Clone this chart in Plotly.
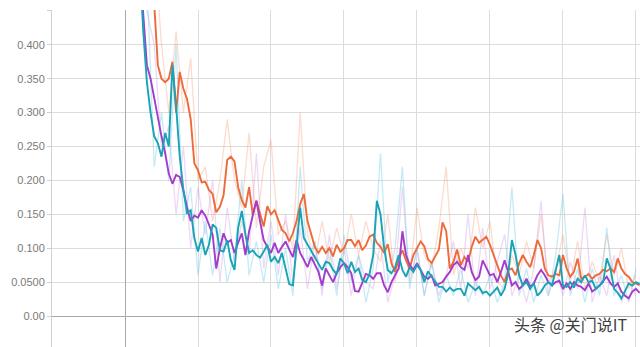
import plotly.graph_objects as go

# ---- data ----
orange_smooth = [0.75, 0.68, 0.6, 0.52, 0.46, 0.37, 0.35, 0.345, 0.35, 0.375,
                 0.30, 0.36, 0.335, 0.32, 0.29, 0.225, 0.215, 0.197, 0.198, 0.186,
                 0.18, 0.153, 0.161, 0.178, 0.23, 0.235, 0.228, 0.19, 0.171, 0.16,
                 0.19, 0.15, 0.17, 0.152, 0.132, 0.162, 0.15, 0.156, 0.142, 0.127,
                 0.122, 0.11, 0.122, 0.14, 0.165, 0.18, 0.14, 0.122, 0.102, 0.093,
                 0.102, 0.093, 0.1, 0.088, 0.105, 0.095, 0.1, 0.112, 0.112, 0.103,
                 0.112, 0.097, 0.104, 0.117, 0.12, 0.108, 0.102, 0.093, 0.106, 0.078,
                 0.065, 0.085, 0.097, 0.082, 0.07, 0.09, 0.1, 0.11, 0.103, 0.084,
                 0.078, 0.088, 0.098, 0.138, 0.125, 0.07, 0.08, 0.098, 0.075, 0.087,
                 0.08, 0.102, 0.117, 0.108, 0.112, 0.117, 0.105, 0.09, 0.072, 0.06,
                 0.05, 0.068, 0.07, 0.06, 0.078, 0.09, 0.08, 0.072, 0.09, 0.112,
                 0.1, 0.07, 0.06, 0.058, 0.062, 0.06, 0.09, 0.07, 0.058, 0.065,
                 0.085, 0.055, 0.058, 0.062, 0.055, 0.06, 0.062, 0.068, 0.066, 0.07,
                 0.065, 0.085, 0.07, 0.062, 0.058, 0.05, 0.048, 0.045]

teal_smooth = [0.52, 0.42, 0.345, 0.30, 0.265, 0.255, 0.235, 0.27, 0.25, 0.37,
               0.31, 0.235, 0.186, 0.152, 0.156, 0.115, 0.095, 0.115, 0.09, 0.105,
               0.135, 0.13, 0.097, 0.095, 0.112, 0.082, 0.068, 0.13, 0.155, 0.12,
               0.093, 0.097, 0.09, 0.086, 0.095, 0.105, 0.08, 0.087, 0.078, 0.093,
               0.07, 0.047, 0.045, 0.10, 0.16, 0.115, 0.106, 0.095, 0.087, 0.078,
               0.068, 0.08, 0.078, 0.068, 0.062, 0.085, 0.078, 0.063, 0.08, 0.065,
               0.07, 0.053, 0.05, 0.062, 0.09, 0.17, 0.15, 0.1, 0.068, 0.063,
               0.072, 0.09, 0.068, 0.058, 0.072, 0.065, 0.075, 0.068, 0.05, 0.066,
               0.058, 0.05, 0.043, 0.043, 0.036, 0.042, 0.037, 0.04, 0.04, 0.03,
               0.048, 0.043, 0.038, 0.043, 0.034, 0.036, 0.03, 0.036, 0.042, 0.03,
               0.04, 0.063, 0.112, 0.09, 0.06, 0.045, 0.05, 0.04, 0.048, 0.03,
               0.036, 0.045, 0.05, 0.045, 0.07, 0.09, 0.045, 0.043, 0.05, 0.042,
               0.055, 0.05, 0.06, 0.05, 0.052, 0.04, 0.045, 0.05, 0.085, 0.07,
               0.04, 0.034, 0.026, 0.036, 0.048, 0.045, 0.05, 0.047]

purple_smooth = [0.52, 0.44, 0.37, 0.35, 0.32, 0.29, 0.265, 0.24, 0.21, 0.195,
                 0.208, 0.205, 0.185, 0.16, 0.14, 0.148, 0.145, 0.156, 0.148, 0.135,
                 0.12, 0.07, 0.1, 0.122, 0.108, 0.112, 0.093, 0.108, 0.122, 0.09,
                 0.125, 0.148, 0.17, 0.14, 0.112, 0.102, 0.093, 0.108, 0.093, 0.102,
                 0.11, 0.098, 0.087, 0.112, 0.093, 0.083, 0.072, 0.087, 0.075, 0.065,
                 0.045, 0.07, 0.06, 0.05, 0.063, 0.072, 0.078, 0.072, 0.063, 0.037,
                 0.036, 0.05, 0.062, 0.06, 0.055, 0.063, 0.063, 0.045, 0.035, 0.05,
                 0.06, 0.07, 0.125, 0.09, 0.075, 0.068, 0.078, 0.068, 0.058, 0.055,
                 0.06, 0.045, 0.048, 0.05, 0.058, 0.065, 0.075, 0.08, 0.072, 0.068,
                 0.09, 0.065, 0.053, 0.058, 0.082, 0.072, 0.06, 0.062, 0.05, 0.065,
                 0.082, 0.065, 0.045, 0.05, 0.04, 0.045, 0.055, 0.043, 0.048, 0.06,
                 0.068, 0.06, 0.05, 0.045, 0.05, 0.052, 0.04, 0.048, 0.04, 0.05,
                 0.045, 0.043, 0.038, 0.048, 0.036, 0.04, 0.045, 0.052, 0.058, 0.048,
                 0.043, 0.048, 0.036, 0.03, 0.026, 0.036, 0.04, 0.034]

orange_raw = [0.9, 0.7, 0.55, 0.4, 0.3, 0.42, 0.3, 0.38, 0.2, 0.22,
              0.14, 0.2, 0.29, 0.2, 0.16, 0.27, 0.13, 0.22, 0.26, 0.12,
              0.14, 0.1, 0.3, 0.12, 0.08, 0.14, 0.08, 0.13, 0.09, 0.15,
              0.09, 0.14, 0.1, 0.08, 0.15, 0.05, 0.12, 0.06, 0.16, 0.09,
              0.07, 0.13, 0.22, 0.06, 0.1, 0.07, 0.16, 0.1, 0.14, 0.05,
              0.04, 0.09, 0.06, 0.11, 0.07, 0.15, 0.05, 0.07, 0.12, 0.05,
              0.11, 0.04, 0.08, 0.05, 0.12, 0.06, 0.1, 0.04, 0.06]

teal_raw = [0.7, 0.5, 0.22, 0.3, 0.2, 0.4, 0.14, 0.19, 0.06, 0.14,
            0.06, 0.13, 0.05, 0.09, 0.2, 0.06, 0.11, 0.05, 0.12, 0.04,
            0.1, 0.03, 0.22, 0.08, 0.11, 0.04, 0.1, 0.03, 0.12, 0.05,
            0.09, 0.02, 0.07, 0.24, 0.05, 0.1, 0.22, 0.04, 0.1, 0.03,
            0.08, 0.02, 0.06, 0.03, 0.07, 0.02, 0.05, 0.03, 0.06, 0.02,
            0.05, 0.19, 0.03, 0.07, 0.02, 0.06, 0.03, 0.09, 0.18, 0.03,
            0.07, 0.02, 0.07, 0.03, 0.13, 0.03, 0.06, 0.02, 0.07]

purple_raw = [0.65, 0.45, 0.4, 0.25, 0.28, 0.15, 0.25, 0.1, 0.19, 0.12,
              0.2, 0.05, 0.16, 0.08, 0.14, 0.09, 0.24, 0.07, 0.14, 0.06,
              0.15, 0.05, 0.13, 0.04, 0.11, 0.03, 0.12, 0.04, 0.1, 0.03,
              0.09, 0.05, 0.04, 0.11, 0.02, 0.06, 0.19, 0.05, 0.1, 0.03,
              0.08, 0.03, 0.06, 0.11, 0.04, 0.15, 0.03, 0.13, 0.04, 0.08,
              0.12, 0.03, 0.06, 0.02, 0.07, 0.17, 0.03, 0.07, 0.03, 0.08,
              0.04, 0.16, 0.02, 0.06, 0.03, 0.09, 0.02, 0.05, 0.03]

first_step = 200
smooth_step = 50
raw_step = 100

y_tick_vals = [0.0, 0.05, 0.1, 0.15, 0.2, 0.25, 0.3, 0.35, 0.4]
y_tick_text = ["0.00", "0.0500", "0.100", "0.150", "0.200", "0.250", "0.300", "0.350", "0.400"]

watermark = "头条 @关门说IT"

# ---- figure ----
def steps(vals, step):
    return [first_step + step * i for i in range(len(vals))]

fig = go.Figure()

raw_series = [
    (orange_raw, "rgba(245,150,110,0.33)"),
    (purple_raw, "rgba(200,140,225,0.33)"),
    (teal_raw, "rgba(120,205,230,0.42)"),
]
for vals, col in raw_series:
    fig.add_trace(go.Scatter(x=steps(vals, raw_step), y=vals, mode="lines",
                             line=dict(color=col, width=1.3), hoverinfo="skip"))

smooth_series = [
    (orange_smooth, "#ee6a3a"),
    (purple_smooth, "#a33ccb"),
    (teal_smooth, "#1aa2b6"),
]
for vals, col in smooth_series:
    fig.add_trace(go.Scatter(x=steps(vals, smooth_step), y=vals, mode="lines",
                             line=dict(color=col, width=1.9)))

fig.update_layout(
    width=640, height=347,
    margin=dict(l=52, r=0, t=10, b=0),
    paper_bgcolor="white", plot_bgcolor="white",
    showlegend=False,
    font=dict(family="Liberation Sans, Arial, sans-serif", size=11, color="#777"),
    xaxis=dict(range=[-1000, 7055], tick0=0, dtick=1000, showticklabels=False,
               showgrid=True, gridcolor="#dcdcdc", gridwidth=1,
               zeroline=True, zerolinecolor="#a8a8a8", zerolinewidth=1,
               ticks=""),
    yaxis=dict(range=[-0.0457, 0.4513], tickvals=y_tick_vals + [0.45],
               ticktext=y_tick_text + [""],
               showgrid=True, gridcolor="#dcdcdc", gridwidth=1,
               zeroline=True, zerolinecolor="#a8a8a8", zerolinewidth=1,
               showline=True, linecolor="#d0d0d0", linewidth=1,
               ticks="outside", ticklen=4, tickcolor="#cfcfcf",
               tickfont=dict(size=11, color="#7a7a7a")),
)

fig.add_annotation(text=watermark, xref="paper", yref="paper",
                   x=1.0, y=0.0, xanchor="right", yanchor="bottom",
                   xshift=-11, yshift=9, showarrow=False,
                   font=dict(family="Noto Sans CJK SC", size=16, color="#3f3f3f"))

fig.write_html("out.html")
